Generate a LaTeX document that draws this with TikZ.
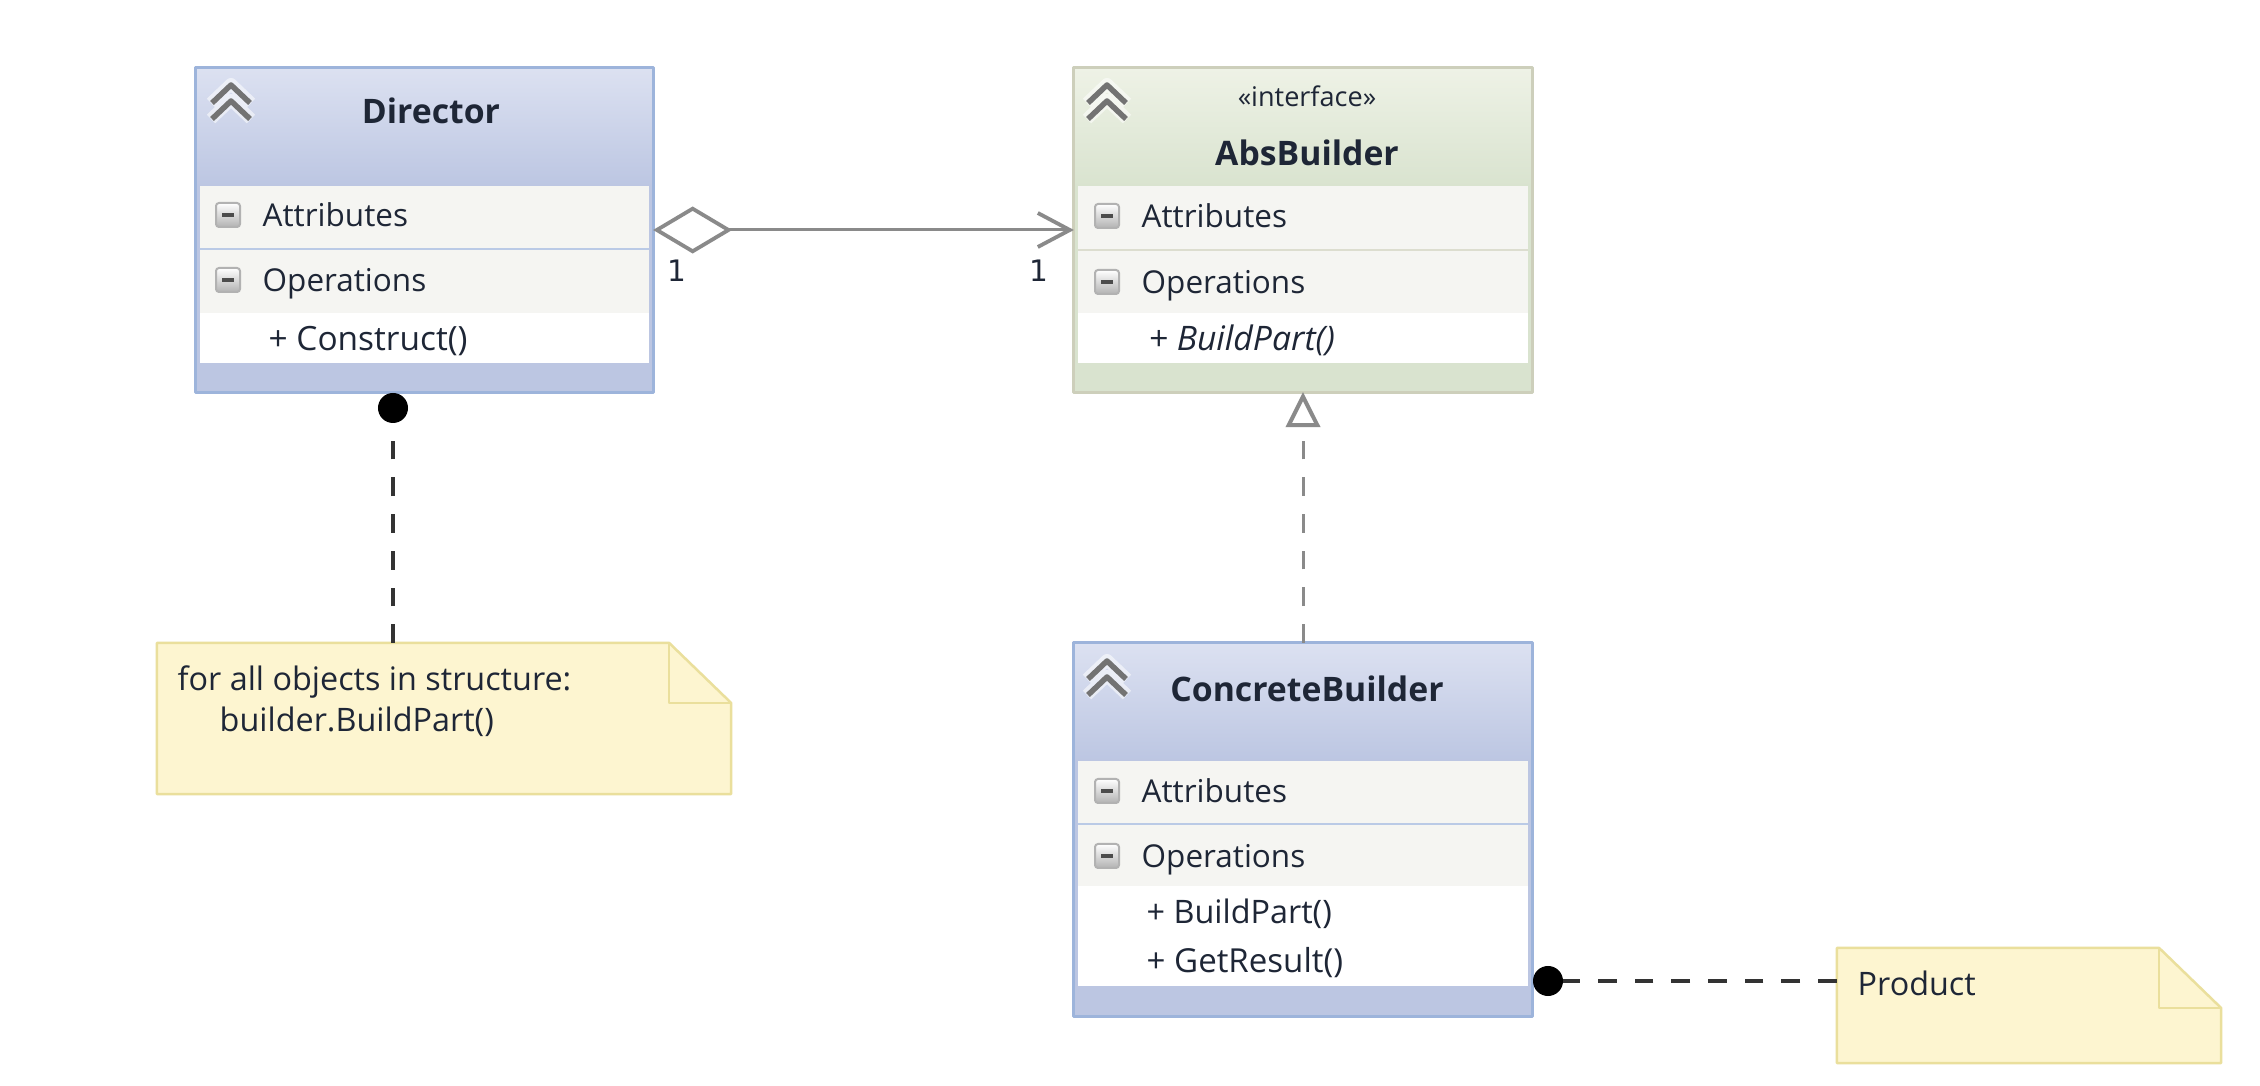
\documentclass[tikz,border=0pt]{standalone}
\usepackage{fontspec}
\setmainfont{Open Sans}
\newfontfamily\multfont{DejaVu Sans}
\usetikzlibrary{arrows.meta,calc}
\definecolor{bluetop}{HTML}{DCE1F1}
\definecolor{bluebot}{HTML}{BCC6E2}
\definecolor{blueline}{HTML}{9DB4DB}
\definecolor{greentop}{HTML}{EEF2E6}
\definecolor{greenbot}{HTML}{D9E3CF}
\definecolor{greenline}{HTML}{CDCFBB}
\definecolor{bandfill}{HTML}{F5F5F2}
\definecolor{notefill}{HTML}{FDF5D0}
\definecolor{noteline}{HTML}{EADF9C}
\definecolor{linkgray}{HTML}{8A8A8A}
\definecolor{inkdark}{HTML}{1E2636}
\tikzset{
  classbox/.style={draw,line width=0.3mm,inner sep=0,outer sep=0},
  notebox/.style={fill=notefill,inner sep=0,outer sep=0},
  memberlabel/.style={anchor=west,inner sep=0,text=inkdark,text height=8.7pt,text depth=2pt,font=\fontsize{9.2}{10}\selectfont},
  compartlabel/.style={memberlabel,font=\fontsize{8.95}{10}\selectfont},
  titlelabel/.style={inner sep=0,text=inkdark,font=\fontsize{9.6}{10}\selectfont\bfseries},
  smalllabel/.style={inner sep=0,text=inkdark,font=\fontsize{7.7}{9}\selectfont},
  multlabel/.style={inner sep=0,text=inkdark,font=\fontsize{8.4}{9}\selectfont\multfont},
  ball/.style={circle,fill=black,minimum size=3mm,inner sep=0,outer sep=0},
  graylink/.style={draw=linkgray,line width=0.3mm},
  notelink/.style={draw=black!80,line width=0.36mm,dash pattern=on 1.87mm off 1.8mm},
}
% compartments of one class: left, right, top, header end, ops end, white end, bottom, colours
\newcommand{\classbands}[9]{
  \shade[top color=#8,bottom color=#9] (#1,#3) rectangle (#2,#4);
  \fill[bandfill] (#1,#4) rectangle (#2,#5);
  \fill[white] (#1,#5) rectangle (#2,#6);
  \fill[#9] (#1,#6) rectangle (#2,#7);
  \fill[#9] (#1,#4) rectangle (#1+4,#6);
  \fill[#9] (#2-4,#4) rectangle (#2,#6);
}
\newcommand{\minusbox}[2]{
  \shade[top color=white,bottom color=black!30,draw=black!30,rounded corners=0.3mm,line width=0.2mm] (#1-12,#2-12) rectangle (#1+12,#2+12);
  \draw[black!70,line width=0.35mm] (#1-6,#2) -- (#1+6,#2);
}
\newcommand{\chevrons}[2]{
  \draw[white,opacity=0.55,line width=1.2mm,line join=round] (#1-20,#2+2) -- (#1,#2-17) -- (#1+20,#2+2) (#1-20,#2+18) -- (#1,#2-1) -- (#1+20,#2+18);
  \draw[black!55,line width=0.55mm] (#1-19,#2+2) -- (#1,#2-16) -- (#1+19,#2+2) (#1-19,#2+18) -- (#1,#2) -- (#1+19,#2+18);
}
\newcommand{\notefold}[1]{
  \fill[white] ($(#1.north east)+(-62,0)$) -- (#1.north east) -- ($(#1.north east)+(0,60)$) -- cycle;
  \draw[noteline,line width=0.25mm] (#1.south west) -- (#1.north west) -- ($(#1.north east)+(-62,0)$) -- ($(#1.north east)+(0,60)$) -- (#1.south east) -- cycle;
  \draw[noteline,line width=0.25mm] ($(#1.north east)+(-62,0)$) -- ($(#1.north east)+(-62,60)$) -- ($(#1.north east)+(0,60)$);
}
\begin{document}
\begin{tikzpicture}[x=0.01cm,y=-0.01cm,line join=round]
  \useasboundingbox[fill=white] (0,0) rectangle (2260,1086);
  % Director
  \classbands{196}{653}{68}{186}{313}{363}{392}{bluetop}{bluebot}
  \draw[blueline!70,line width=0.2mm] (200,249) -- (649,249);
  \node[classbox,draw=blueline,minimum width=4.57cm,minimum height=3.24cm] (director) at (424.5,230) {};
  \chevrons{231}{101}
  \node[titlelabel] (directortitle) at (431,111) {Director};
  \minusbox{228}{215}
  \minusbox{228}{280}
  \node[compartlabel] (dirattr) at (262,215) {Attributes};
  \node[compartlabel] (dirops) at (262,280) {Operations};
  \node[memberlabel,font=\fontsize{9.5}{10}\selectfont] (dirconstruct) at (268,339) {+ Construct()};
  % AbsBuilder
  \classbands{1074}{1532}{68}{186}{313}{363}{392}{greentop}{greenbot}
  \draw[greenline!70,line width=0.2mm] (1078,250) -- (1528,250);
  \node[classbox,draw=greenline,minimum width=4.58cm,minimum height=3.24cm] (absbuilder) at (1303,230) {};
  \chevrons{1107}{101}
  \node[smalllabel] (absstereo) at (1307,96) {«interface»};
  \node[titlelabel] (abstitle) at (1307,153) {AbsBuilder};
  \minusbox{1107}{216}
  \minusbox{1107}{282}
  \node[compartlabel] (absattr) at (1141,216) {Attributes};
  \node[compartlabel] (absops) at (1141,282) {Operations};
  \node[memberlabel,font=\fontsize{9.6}{10}\selectfont\itshape] (absbuild) at (1148,339) {+ BuildPart()};
  % ConcreteBuilder
  \classbands{1074}{1532}{643}{761}{886}{986}{1016}{bluetop}{bluebot}
  \draw[blueline!70,line width=0.2mm] (1078,824) -- (1528,824);
  \node[classbox,draw=blueline,minimum width=4.58cm,minimum height=3.73cm] (concrete) at (1303,829.5) {};
  \chevrons{1107}{677}
  \node[titlelabel] (concretetitle) at (1307,689) {ConcreteBuilder};
  \minusbox{1107}{791}
  \minusbox{1107}{856}
  \node[compartlabel] (conattr) at (1141,791) {Attributes};
  \node[compartlabel] (conops) at (1141,856) {Operations};
  \node[memberlabel] (conbuild) at (1146,912) {+ BuildPart()};
  \node[memberlabel,font=\fontsize{9.4}{10}\selectfont] (conresult) at (1146,961) {+ GetResult()};
  % notes
  \node[notebox,minimum width=5.74cm,minimum height=1.51cm] (noteloop) at (444,718.5) {};
  \notefold{noteloop}
  \node[memberlabel] (noteloopa) at (177,679) {for all objects in structure:};
  \node[memberlabel] (noteloopb) at (219,720) {builder.BuildPart()};
  \node[notebox,minimum width=3.84cm,minimum height=1.15cm] (noteproduct) at (2029,1005.5) {};
  \notefold{noteproduct}
  \node[memberlabel] (noteproducttxt) at (1857,984) {Product};
  % links
  \draw[graylink,{Diamond[open,length=7.9mm,width=4.7mm,line width=0.38mm]}-{Straight Barb[length=3.2mm,width=3.4mm,line width=0.38mm]}] (director.east) -- (absbuilder.west);
  \node[multlabel] (multleft) at (677,271) {1};
  \node[multlabel] (multright) at (1039,271) {1};
  \draw[graylink,dash pattern=on 1.87mm off 1.8mm,-{Triangle[open,length=3.5mm,width=3.4mm,fill=white,line width=0.4mm]}] (concrete.north) -- (absbuilder.south);
  \node[ball] (dirball) at (393,408) {};
  \draw[notelink] (noteloop.north -| dirball) -- (dirball);
  \node[ball] (conball) at (1548,981) {};
  \draw[notelink] (noteproduct.west |- conball) -- (conball);
\end{tikzpicture}
\end{document}
